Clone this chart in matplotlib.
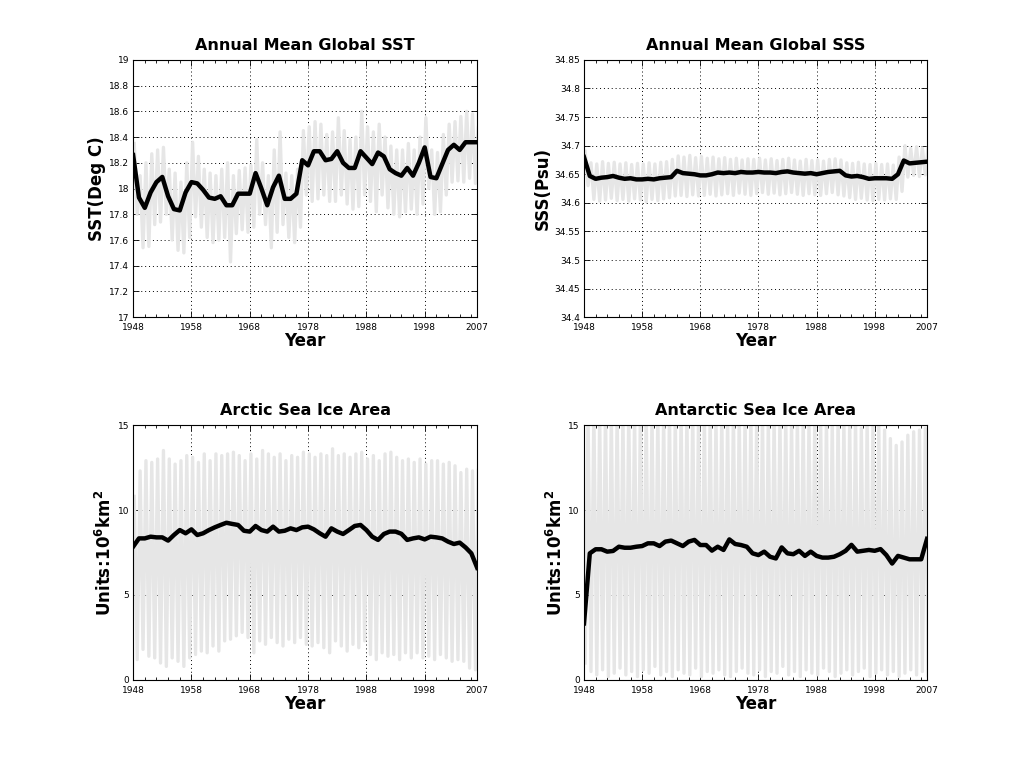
import numpy as np
import matplotlib
matplotlib.use("Agg")
import matplotlib.pyplot as plt
from matplotlib.ticker import FuncFormatter, MultipleLocator

years = list(range(1948, 2008))

# annual means (black)
sst_annual = [18.26, 17.93, 17.85, 17.97, 18.05, 18.09, 17.94, 17.84, 17.83, 17.97,
              18.05, 18.04, 17.99, 17.93, 17.92, 17.94, 17.87, 17.87, 17.96, 17.96,
              17.96, 18.12, 18.00, 17.87, 18.01, 18.10, 17.92, 17.92, 17.96, 18.22,
              18.18, 18.29, 18.29, 18.22, 18.23, 18.29, 18.20, 18.16, 18.16, 18.29,
              18.24, 18.19, 18.28, 18.25, 18.15, 18.12, 18.10, 18.16, 18.10, 18.20,
              18.32, 18.09, 18.08, 18.19, 18.30, 18.34, 18.30, 18.36, 18.36, 18.36]
sss_annual = [34.680, 34.647, 34.642, 34.644, 34.645, 34.647, 34.644, 34.642, 34.643, 34.641,
              34.641, 34.642, 34.641, 34.643, 34.644, 34.645, 34.656, 34.652, 34.651, 34.650,
              34.648, 34.648, 34.650, 34.653, 34.652, 34.653, 34.652, 34.654, 34.653, 34.653,
              34.654, 34.653, 34.653, 34.652, 34.654, 34.655, 34.653, 34.652, 34.651, 34.652,
              34.650, 34.652, 34.654, 34.655, 34.656, 34.648, 34.646, 34.647, 34.645, 34.642,
              34.643, 34.643, 34.643, 34.642, 34.650, 34.674, 34.669, 34.670, 34.671, 34.672]
arctic_annual = [7.84, 8.33, 8.33, 8.43, 8.39, 8.39, 8.20, 8.53, 8.82, 8.63,
                 8.86, 8.53, 8.63, 8.82, 8.98, 9.12, 9.25, 9.18, 9.12, 8.78,
                 8.73, 9.06, 8.82, 8.73, 9.02, 8.73, 8.78, 8.92, 8.82, 8.98,
                 9.02, 8.86, 8.63, 8.43, 8.92, 8.73, 8.59, 8.82, 9.06, 9.12,
                 8.82, 8.43, 8.24, 8.59, 8.73, 8.73, 8.60, 8.24, 8.33, 8.39,
                 8.27, 8.43, 8.39, 8.33, 8.14, 8.00, 8.08, 7.80, 7.45, 6.60]
antarctic_annual = [3.33, 7.45, 7.69, 7.69, 7.55, 7.59, 7.84, 7.78, 7.78, 7.84,
                    7.88, 8.04, 8.04, 7.88, 8.14, 8.20, 8.04, 7.88, 8.14, 8.24,
                    7.94, 7.94, 7.61, 7.84, 7.65, 8.27, 8.00, 7.94, 7.84, 7.45,
                    7.35, 7.55, 7.25, 7.15, 7.80, 7.45, 7.40, 7.60, 7.30, 7.55,
                    7.30, 7.20, 7.20, 7.25, 7.40, 7.60, 7.95, 7.55, 7.60, 7.65,
                    7.60, 7.70, 7.35, 6.85, 7.30, 7.20, 7.10, 7.10, 7.10, 8.30]

# monthly series (gray): yearly high and low
sst_high = [18.35, 18.10, 18.20, 18.27, 18.30, 18.32, 18.15, 18.12, 18.05, 18.20,
            18.36, 18.25, 18.15, 18.12, 18.10, 18.15, 18.20, 18.10, 18.14, 18.16,
            18.18, 18.38, 18.20, 18.10, 18.30, 18.44, 18.12, 18.10, 18.15, 18.45,
            18.48, 18.52, 18.50, 18.42, 18.44, 18.55, 18.45, 18.38, 18.40, 18.60,
            18.48, 18.44, 18.50, 18.40, 18.33, 18.30, 18.30, 18.35, 18.30, 18.40,
            18.55, 18.30, 18.28, 18.42, 18.50, 18.52, 18.56, 18.60, 18.58, 18.48]
sst_low = [17.80, 17.54, 17.55, 17.72, 17.74, 17.80, 17.60, 17.52, 17.50, 17.62,
           17.78, 17.70, 17.62, 17.58, 17.60, 17.62, 17.43, 17.65, 17.68, 17.66,
           17.70, 17.80, 17.72, 17.54, 17.66, 17.72, 17.62, 17.58, 17.70, 17.95,
           17.90, 17.92, 17.95, 17.90, 17.90, 17.95, 17.88, 17.84, 17.86, 17.95,
           17.90, 17.82, 17.95, 17.85, 17.80, 17.78, 17.82, 17.84, 17.80, 17.88,
           18.00, 17.80, 17.82, 17.95, 18.05, 18.06, 18.05, 18.08, 18.04, 18.15]
sss_high = [34.690, 34.670, 34.668, 34.672, 34.669, 34.671, 34.668, 34.670, 34.667, 34.669,
            34.668, 34.670, 34.668, 34.671, 34.672, 34.676, 34.682, 34.680, 34.683, 34.679,
            34.681, 34.678, 34.680, 34.677, 34.679, 34.676, 34.678, 34.675, 34.677, 34.676,
            34.678, 34.675, 34.677, 34.674, 34.676, 34.678, 34.675, 34.673, 34.676, 34.674,
            34.675, 34.673, 34.676, 34.677, 34.675, 34.670, 34.669, 34.671, 34.668, 34.667,
            34.669, 34.667, 34.668, 34.666, 34.680, 34.700, 34.695, 34.698, 34.696, 34.698]
sss_low = [34.630, 34.606, 34.603, 34.605, 34.608, 34.604, 34.606, 34.603, 34.607, 34.605,
           34.602, 34.606, 34.604, 34.607, 34.609, 34.612, 34.613, 34.611, 34.614, 34.612,
           34.613, 34.615, 34.612, 34.614, 34.616, 34.613, 34.617, 34.615, 34.613, 34.616,
           34.618, 34.615, 34.617, 34.614, 34.616, 34.618, 34.615, 34.613, 34.616, 34.614,
           34.613, 34.616, 34.618, 34.614, 34.612, 34.609, 34.606, 34.608, 34.605, 34.604,
           34.606, 34.605, 34.607, 34.606, 34.620, 34.645, 34.648, 34.646, 34.649, 34.650]
arctic_high = [10.8, 12.3, 12.9, 12.8, 13.0, 13.5, 13.0, 12.7, 12.9, 13.2,
               13.1, 12.8, 13.3, 12.9, 13.3, 13.2, 13.3, 13.4, 13.2, 12.9,
               13.3, 13.0, 13.5, 13.3, 13.1, 13.3, 12.9, 13.2, 13.1, 13.4,
               13.3, 13.1, 13.3, 13.2, 13.6, 13.2, 13.3, 13.1, 13.3, 13.4,
               13.0, 13.2, 12.9, 13.3, 13.4, 13.1, 12.9, 13.0, 12.8, 13.0,
               12.7, 12.9, 12.9, 12.7, 12.8, 12.6, 12.2, 12.4, 12.3, 12.4]
arctic_low = [1.2, 1.8, 1.4, 1.3, 1.0, 0.8, 1.3, 1.1, 0.8, 1.3,
              1.5, 1.7, 1.6, 2.0, 1.7, 2.3, 2.4, 2.6, 2.8, 2.5,
              1.6, 2.3, 2.1, 2.5, 2.2, 2.0, 2.4, 2.2, 2.5, 2.1,
              2.0, 2.2, 1.9, 1.6, 2.3, 2.0, 1.7, 2.1, 1.9, 2.3,
              1.5, 1.2, 1.6, 1.4, 1.5, 1.2, 1.6, 1.3, 1.6, 1.3,
              1.4, 1.2, 1.5, 1.3, 1.1, 1.2, 1.1, 0.7, 0.6, 0.9]
antarctic_high = [15.6, 15.8, 15.5, 15.9, 15.6, 15.7, 15.5, 15.8, 15.6, 15.7,
                  15.9, 15.5, 15.7, 15.6, 15.8, 15.5, 15.7, 15.6, 15.8, 15.5,
                  15.7, 15.6, 15.4, 15.7, 15.5, 15.8, 15.6, 15.5, 15.7, 15.4,
                  15.6, 15.3, 15.5, 15.4, 15.6, 15.3, 15.5, 15.4, 15.2, 15.5,
                  15.3, 15.4, 15.2, 15.5, 15.3, 15.1, 15.4, 14.8, 15.2, 14.9,
                  15.1, 14.7, 14.2, 13.8, 14.0, 14.4, 14.6, 14.7, 14.8, 14.9]
antarctic_low = [1.0, 0.5, 0.3, 0.6, 0.2, 0.4, 0.7, 0.3, 0.5, 0.2,
                 0.6, 0.4, 0.8, 0.3, 0.5, 0.2, 0.6, 0.4, 0.3, 0.7,
                 0.2, 0.5, 0.4, 0.6, 0.3, 0.2, 0.5, 0.7, 0.4, 0.3,
                 0.6, 0.2, 0.5, 0.4, 0.8, 0.3, 0.5, 0.2, 0.6, 0.4,
                 0.3, 0.7, 0.5, 0.2, 0.4, 0.6, 0.3, 0.5, 0.7, 0.2,
                 0.4, 0.6, 0.3, 0.5, 0.2, 0.4, 0.6, 0.3, 0.5, 0.2]

titles = ["Annual Mean Global SST", "Annual Mean Global SSS",
          "Arctic Sea Ice Area", "Antarctic Sea Ice Area"]
ylabels = ["SST(Deg C)", "SSS(Psu)",
           r"$\mathbf{Units\!:\!10^6km^2}$", r"$\mathbf{Units\!:\!10^6km^2}$"]
xtick_years = [1948, 1958, 1968, 1978, 1988, 1998, 2007]


def monthly_track(high, low, high_first=True):
    xs, ys = [], []
    for yr, hi, lo in zip(years, high, low):
        xs += [yr + 0.2, yr + 0.7]
        ys += [hi, lo] if high_first else [lo, hi]
    return xs, ys


panels = [
    (sst_annual, sst_high, sst_low, (17, 19), 0.2, True),
    (sss_annual, sss_high, sss_low, (34.4, 34.85), 0.05, True),
    (arctic_annual, arctic_high, arctic_low, (0, 15), 5, True),
    (antarctic_annual, antarctic_high, antarctic_low, (0, 15), 5, False),
]
positions = [[0.130, 0.587, 0.336, 0.335], [0.5703, 0.587, 0.335, 0.335],
             [0.130, 0.1146, 0.336, 0.332], [0.5703, 0.1146, 0.335, 0.332]]

fig = plt.figure(figsize=(10.24, 7.68), dpi=100)
for i, (annual, hi, lo, ylim, ystep, hf) in enumerate(panels):
    ax = fig.add_axes(positions[i])
    mx, my = monthly_track(hi, lo, hf)
    ax.plot(mx, my, color="#e6e6e6", linewidth=2.4, zorder=2)
    ax.plot(years, annual, color="black", linewidth=3.2, zorder=3)
    ax.set_xlim(1948, 2007)
    ax.set_ylim(*ylim)
    ax.set_xticks(xtick_years)
    ax.xaxis.set_minor_locator(MultipleLocator(2))
    ax.set_yticks(np.arange(ylim[0], ylim[1] + ystep / 2, ystep))
    ax.yaxis.set_major_formatter(FuncFormatter(lambda v, p: "%g" % round(v, 3)))
    ax.tick_params(which="both", direction="in", top=True, right=True,
                   labelsize=6.5)
    ax.tick_params(axis="x", pad=4)
    ax.tick_params(axis="y", pad=3)
    ax.tick_params(which="major", length=4, width=0.6)
    ax.tick_params(which="minor", length=2, width=0.6)
    ax.grid(True, which="major", color="black", linestyle=(0, (1, 3)),
            linewidth=0.7, zorder=1)
    ax.set_axisbelow(True)
    for s in ax.spines.values():
        s.set_linewidth(0.8)
    ax.set_title(titles[i], fontsize=11.5, fontweight="bold", pad=7)
    ax.set_xlabel("Year", fontsize=12, fontweight="bold", labelpad=0)
    ax.set_ylabel(ylabels[i], fontsize=12, fontweight="bold", labelpad=2)

fig.savefig("out.png", dpi=100)
plt.close(fig)
